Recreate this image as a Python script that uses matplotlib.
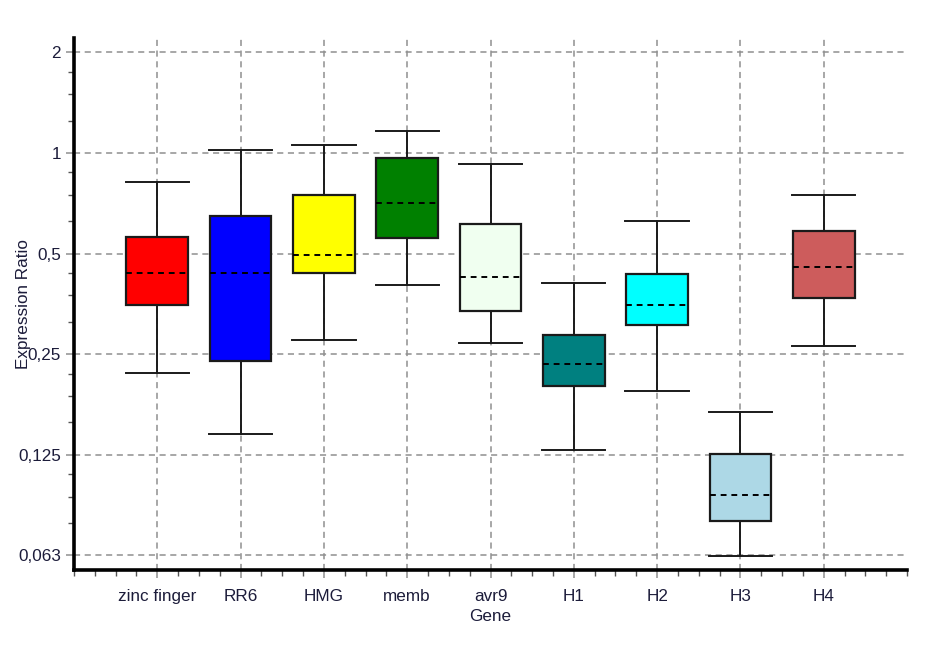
import matplotlib
matplotlib.use("Agg")
import matplotlib.pyplot as plt
from matplotlib.ticker import FixedLocator, MultipleLocator, NullFormatter

genes = ["zinc finger", "RR6", "HMG", "memb", "avr9", "H1", "H2", "H3", "H4"]
whisker_low = [0.219, 0.144, 0.276, 0.403, 0.270, 0.129, 0.194, 0.0622, 0.264]
box_low = [0.352, 0.239, 0.439, 0.556, 0.337, 0.201, 0.305, 0.0793, 0.369]
medians = [0.439, 0.439, 0.497, 0.710, 0.425, 0.234, 0.352, 0.0947, 0.455]
box_high = [0.562, 0.648, 0.749, 0.964, 0.613, 0.285, 0.435, 0.126, 0.585]
whisker_high = [0.817, 1.021, 1.057, 1.166, 0.925, 0.407, 0.627, 0.168, 0.749]
colors = ["#FF0000", "#0000FF", "#FFFF00", "#008000", "#F0FFF0",
          "#008080", "#00FFFF", "#ADD8E6", "#CD5C5C"]

y_ticks = [0.0625, 0.125, 0.25, 0.5, 1, 2]
y_tick_labels = ["0,063", "0,125", "0,25", "0,5", "1", "2"]

plt.rcParams["font.family"] = ["Liberation Sans", "DejaVu Sans"]
text_color = "#1c1c3a"

fig = plt.figure(figsize=(9.3, 6.46), dpi=100)
ax = fig.add_axes([74 / 930, 1 - 570 / 646, (907 - 74) / 930, (570 - 38) / 646])

stats = []
for i, g in enumerate(genes):
    stats.append(dict(label=g, whislo=whisker_low[i], q1=box_low[i], med=medians[i],
                      q3=box_high[i], whishi=whisker_high[i], fliers=[]))

positions = list(range(1, len(genes) + 1))
bp = ax.bxp(stats, positions=positions, widths=0.74, patch_artist=True,
            showfliers=False, capwidths=0.76,
            boxprops=dict(edgecolor="#1a1a1a", linewidth=1.6),
            whiskerprops=dict(color="#1a1a1a", linewidth=1.4),
            capprops=dict(color="#1a1a1a", linewidth=1.4),
            medianprops=dict(color="black", linewidth=1.4, linestyle=(0, (3, 2.5))),
            zorder=3)
for patch, c in zip(bp["boxes"], colors):
    patch.set_facecolor(c)

ax.set_yscale("log", base=2)
ax.set_ylim(0.0565, 2.21)
ax.set_xlim(0, 10)

ax.yaxis.set_major_locator(FixedLocator(y_ticks))
ax.set_yticklabels(y_tick_labels)
minor_y = [b * f for b in [0.03125, 0.0625, 0.125, 0.25, 0.5, 1, 2] for f in (1.25, 1.5, 1.75)]
ax.yaxis.set_minor_locator(FixedLocator(minor_y))
ax.yaxis.set_minor_formatter(NullFormatter())

ax.set_xticks(positions)
ax.set_xticklabels(genes)
ax.xaxis.set_minor_locator(MultipleLocator(0.25))

ax.grid(True, which="major", color="#909090", linestyle=(0, (4, 3)), linewidth=1.1, zorder=0)
ax.set_axisbelow(True)

for s in ("top", "right"):
    ax.spines[s].set_visible(False)
for s in ("left", "bottom"):
    ax.spines[s].set_linewidth(2.6)
    ax.spines[s].set_color("black")

ax.tick_params(axis="both", which="major", length=6, width=1.1, color="#909090",
               labelsize=12.3, labelcolor=text_color)
ax.tick_params(axis="y", which="major", pad=3.5)
ax.tick_params(axis="x", which="major", pad=8)
ax.tick_params(axis="both", which="minor", length=4, width=1.0, color="#555555")

ax.set_xlabel("Gene", fontsize=12.3, color=text_color, labelpad=3)
ax.set_ylabel("Expression Ratio", fontsize=12.3, color=text_color)
ax.yaxis.set_label_coords(-0.052, 0.5)

fig.savefig("out.png", dpi=100)
